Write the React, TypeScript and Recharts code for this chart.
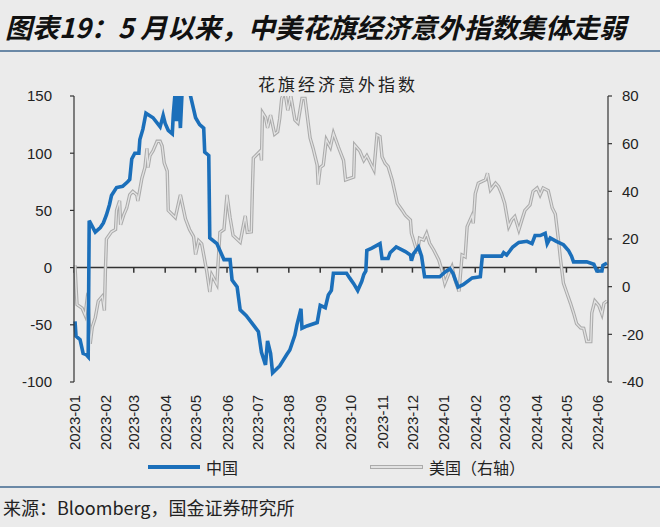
import React from 'react';
import { LineChart, Line, XAxis, YAxis, ReferenceLine } from 'recharts';

// 中国 Citi economic surprise index (left axis)
const chinaDates = [
  '2023-01-02', '2023-01-03', '2023-01-07', '2023-01-10', '2023-01-13', '2023-01-15', '2023-01-16', '2023-01-22',
  '2023-01-27', '2023-01-30', '2023-02-02', '2023-02-05', '2023-02-07', '2023-02-12', '2023-02-18', '2023-02-23',
  '2023-02-25', '2023-02-27', '2023-03-02', '2023-03-06', '2023-03-07', '2023-03-10', '2023-03-13', '2023-03-20',
  '2023-03-27', '2023-03-30', '2023-04-01', '2023-04-04', '2023-04-08', '2023-04-09', '2023-04-11', '2023-04-12',
  '2023-04-14', '2023-04-16', '2023-04-18', '2023-04-21', '2023-04-24', '2023-04-26', '2023-05-01', '2023-05-05',
  '2023-05-09', '2023-05-10', '2023-05-14', '2023-05-15', '2023-05-22', '2023-05-25', '2023-05-29', '2023-06-04',
  '2023-06-06', '2023-06-11', '2023-06-14', '2023-06-20', '2023-06-26', '2023-07-02', '2023-07-05', '2023-07-09',
  '2023-07-11', '2023-07-14', '2023-07-16', '2023-07-23', '2023-07-30', '2023-08-02', '2023-08-07', '2023-08-09',
  '2023-08-13', '2023-08-14', '2023-08-19', '2023-08-29', '2023-09-01', '2023-09-06', '2023-09-09', '2023-09-12',
  '2023-09-14', '2023-09-27', '2023-09-30', '2023-10-04', '2023-10-08', '2023-10-12', '2023-10-14', '2023-10-16',
  '2023-10-17', '2023-10-22', '2023-10-30', '2023-11-01', '2023-11-07', '2023-11-09', '2023-11-15', '2023-11-24',
  '2023-11-29', '2023-11-30', '2023-12-02', '2023-12-07', '2023-12-10', '2023-12-13', '2023-12-28', '2024-01-02',
  '2024-01-07', '2024-01-10', '2024-01-15', '2024-01-20', '2024-01-29', '2024-02-06', '2024-02-08', '2024-02-27',
  '2024-02-29', '2024-03-03', '2024-03-09', '2024-03-15', '2024-03-23', '2024-03-28', '2024-03-31', '2024-04-05',
  '2024-04-10', '2024-04-12', '2024-04-15', '2024-04-21', '2024-04-28', '2024-05-03', '2024-05-06', '2024-05-08',
  '2024-05-21', '2024-05-28', '2024-05-31', '2024-06-05', '2024-06-06', '2024-06-10',
];
const chinaValues = [
  -47, -60, -63, -75, -76, -78, 41, 31,
  35, 39, 46, 55, 63, 70, 71, 75,
  77, 95, 100, 100, 112, 121, 135, 131,
  123, 133, 126, 120, 117, 134, 155, 128,
  155, 122, 160, 170, 165, 150, 131, 125,
  122, 101, 98, 26, 21, 15, 7, 7,
  -11, -17, -37, -42, -49, -56, -74, -85,
  -64, -75, -92, -86, -76, -72, -59, -50,
  -36, -53, -51, -48, -33, -35, -24, -20,
  -5, -5, -9, -14, -20, -12, -6, -3,
  15, 17, 21, 8, 8, 13, 18, 14,
  11, 6, 12, 18, 10, -8, -8, -4,
  -1, -5, -17, -15, -9, -8, 10, 10,
  13, 11, 18, 22, 23, 21, 28, 28,
  30, 21, 26, 23, 20, 15, 10, 5,
  5, 3, -3, -3, 2, 4,
];

// 美国 Citi economic surprise index (right axis)
const usDates = [
  '2023-01-02', '2023-01-03', '2023-01-04', '2023-01-09', '2023-01-12', '2023-01-14', '2023-01-15', '2023-01-17',
  '2023-01-19', '2023-01-22', '2023-01-25', '2023-01-29', '2023-01-31', '2023-02-01', '2023-02-02', '2023-02-07',
  '2023-02-11', '2023-02-12', '2023-02-15', '2023-02-16', '2023-02-19', '2023-02-22', '2023-02-25', '2023-02-28',
  '2023-03-04', '2023-03-05', '2023-03-09', '2023-03-12', '2023-03-14', '2023-03-15', '2023-03-17', '2023-03-20',
  '2023-03-24', '2023-03-27', '2023-03-29', '2023-03-31', '2023-04-03', '2023-04-04', '2023-04-11', '2023-04-16',
  '2023-04-21', '2023-04-25', '2023-04-29', '2023-05-01', '2023-05-04', '2023-05-07', '2023-05-12', '2023-05-15',
  '2023-05-17', '2023-05-22', '2023-05-25', '2023-05-29', '2023-06-01', '2023-06-04', '2023-06-07', '2023-06-14',
  '2023-06-19', '2023-06-21', '2023-06-25', '2023-06-26', '2023-06-27', '2023-07-04', '2023-07-05', '2023-07-06',
  '2023-07-09', '2023-07-11', '2023-07-14', '2023-07-18', '2023-07-21', '2023-07-23', '2023-07-25', '2023-07-28',
  '2023-07-31', '2023-08-03', '2023-08-07', '2023-08-10', '2023-08-14', '2023-08-17', '2023-08-22', '2023-08-25',
  '2023-08-29', '2023-08-30', '2023-09-01', '2023-09-04', '2023-09-07', '2023-09-11', '2023-09-14', '2023-09-19',
  '2023-09-24', '2023-09-26', '2023-10-04', '2023-10-05', '2023-10-10', '2023-10-14', '2023-10-17', '2023-10-24',
  '2023-10-27', '2023-10-30', '2023-11-01', '2023-11-04', '2023-11-07', '2023-11-11', '2023-11-14', '2023-11-16',
  '2023-11-21', '2023-11-24', '2023-11-29', '2023-11-30', '2023-12-04', '2023-12-06', '2023-12-08', '2023-12-12',
  '2023-12-15', '2023-12-18', '2023-12-22', '2023-12-27', '2023-12-30', '2024-01-02', '2024-01-06', '2024-01-09',
  '2024-01-12', '2024-01-16', '2024-01-19', '2024-01-22', '2024-01-24', '2024-01-29', '2024-01-30', '2024-02-01',
  '2024-02-04', '2024-02-11', '2024-02-13', '2024-02-16', '2024-02-21', '2024-02-24', '2024-02-27', '2024-03-01',
  '2024-03-05', '2024-03-08', '2024-03-11', '2024-03-15', '2024-03-18', '2024-03-21', '2024-03-26', '2024-03-29',
  '2024-04-02', '2024-04-05', '2024-04-08', '2024-04-13', '2024-04-17', '2024-04-20', '2024-04-23', '2024-04-25',
  '2024-04-28', '2024-05-02', '2024-05-05', '2024-05-08', '2024-05-11', '2024-05-15', '2024-05-18', '2024-05-21',
  '2024-05-25', '2024-05-26', '2024-05-29', '2024-06-02', '2024-06-05', '2024-06-07', '2024-06-10',
];
const usValues = [
  9, 0, -7.5, -9, -12, -5, -6, -24,
  -17, -13, -6, -4, -10, 7, 20, 23,
  24, 32, 36, 26, 30, 33, 38.5, 40,
  38.5, 36, 45.5, 50, 58, 50, 55, 57,
  61, 61, 59, 52, 48.5, 32, 29, 38.5,
  28.5, 24, 21, 13.5, 19.3, 18, 6.5, -2.2,
  5, 1, 22.8, 24, 38.5, 29, 21.5, 18.7,
  29.7, 22.8, 23, 40, 54, 57, 53, 73,
  71, 66.6, 72, 64, 65, 70.5, 79, 82,
  74, 80, 70, 68.7, 79, 79, 62.4, 58,
  51, 42.8, 50, 51, 61.7, 58.5, 64.4, 58.5,
  53, 44.8, 46, 59.5, 57, 53, 55, 49,
  63.7, 63, 54.5, 51.8, 50.4, 44.8, 39, 35,
  32, 30, 28, 22.4, 16.8, 14, 20.3, 19.6,
  22.4, 18.2, 15.4, 11.2, 7, 1.4, 5.6, 8.4,
  2.8, -2, 13.3, 12.6, 25.2, 30, 26.6, 39,
  43.4, 44.8, 47.6, 40.6, 43.4, 42, 39, 35,
  25.2, 28, 29.4, 23.8, 28, 32, 34.3, 40,
  41.4, 38.5, 41.4, 40.3, 33, 30.5, 20, 12,
  1.5, -3.4, -7, -11, -15.5, -17.3, -17.5, -23,
  -23, -11, -6, -8, -11.5, -7, -6,
];

const monthTicks = [
  '2023-01', '2023-02', '2023-03', '2023-04', '2023-05', '2023-06', '2023-07', '2023-08', '2023-09',
  '2023-10', '2023-11', '2023-12', '2024-01', '2024-02', '2024-03', '2024-04', '2024-05', '2024-06',
];
const leftTicks = [-100, -50, 0, 50, 100, 150];
const rightTicks = [-40, -20, 0, 20, 40, 60, 80];

const toTime = (d: string) => Date.parse(d.length === 7 ? d + '-01' : d);

const chinaData = chinaDates.map((d, i) => ({ t: toTime(d), v: chinaValues[i] }));
const usData = usDates.map((d, i) => ({ t: toTime(d), v: usValues[i] }));
const tickTimes = monthTicks.map(toTime);

const BLUE = '#1b6fba';
const GRAY_OUT = '#ababab';
const GRAY_IN = '#e2e2e2';
const AXIS = '#333';
const NUM_FONT = '"Liberation Sans", Arial, sans-serif';
const CJK_FONT = '"Noto Sans CJK SC", "Noto Sans", sans-serif';

const MonthTick = (props: any) => {
  const { x, y, payload } = props;
  const label = new Date(payload.value).toISOString().slice(0, 7);
  return (
    <text
      x={x}
      y={y}
      transform={`rotate(-90 ${x} ${y})`}
      textAnchor="end"
      dominantBaseline="central"
      fill="#222"
      fontSize={15}
      fontFamily={NUM_FONT}
    >
      {label}
    </text>
  );
};

export default function App() {
  return (
    <div
      style={{
        position: 'absolute',
        top: 0,
        left: 0,
        width: 660,
        height: 527,
        background: '#ebebeb',
        overflow: 'hidden',
        fontFamily: CJK_FONT,
      }}
    >
      <div
        style={{
          position: 'absolute',
          left: 5,
          top: 11,
          fontSize: 27,
          lineHeight: '32px',
          fontWeight: 700,
          fontStyle: 'italic',
          color: '#111',
          whiteSpace: 'nowrap',
        }}
      >
        图表19：5 月以来，中美花旗经济意外指数集体走弱
      </div>
      <div style={{ position: 'absolute', left: 0, top: 50, width: 660, height: 2, background: '#6a88a6' }} />

      <div
        style={{
          position: 'absolute',
          left: 0,
          top: 71,
          width: 676,
          textAlign: 'center',
          fontSize: 17,
          letterSpacing: 3,
          color: '#222',
        }}
      >
        花旗经济意外指数
      </div>

      <LineChart
        width={660}
        height={462}
        margin={{ top: 96, right: 0, bottom: 0, left: 0 }}
        style={{ position: 'absolute', top: 0, left: 0 }}
      >
        <XAxis
          dataKey="t"
          type="number"
          domain={[toTime('2023-01-01'), toTime('2024-06-11')]}
          ticks={tickTimes}
          interval={0}
          axisLine={false}
          tickLine={false}
          tickSize={0}
          tickMargin={13}
          height={80}
          tick={<MonthTick />}
        />
        <YAxis
          yAxisId="left"
          orientation="left"
          width={74}
          domain={[-100, 150]}
          ticks={leftTicks}
          allowDataOverflow
          axisLine={{ stroke: AXIS, strokeWidth: 1.2 }}
          tickLine={{ stroke: AXIS, strokeWidth: 1.2 }}
          tickSize={4}
          tickMargin={18}
          tick={{ fill: '#222', fontSize: 15, fontFamily: NUM_FONT }}
        />
        <YAxis
          yAxisId="right"
          orientation="right"
          width={52}
          domain={[-40, 80]}
          ticks={rightTicks}
          allowDataOverflow
          axisLine={{ stroke: AXIS, strokeWidth: 1.2 }}
          tickLine={{ stroke: AXIS, strokeWidth: 1.2 }}
          tickSize={4}
          tickMargin={10}
          tick={{ fill: '#222', fontSize: 15, fontFamily: NUM_FONT }}
        />
        <ReferenceLine yAxisId="left" y={0} stroke={AXIS} strokeWidth={1.5} />
        {tickTimes.map((t) => (
          <ReferenceLine
            key={t}
            yAxisId="left"
            segment={[
              { x: t, y: 0 },
              { x: t, y: -4.4 },
            ]}
            stroke={AXIS}
            strokeWidth={1.5}
          />
        ))}
        <Line
          yAxisId="right"
          data={usData}
          dataKey="v"
          type="linear"
          stroke={GRAY_OUT}
          strokeWidth={3.4}
          dot={false}
          isAnimationActive={false}
        />
        <Line
          yAxisId="right"
          data={usData}
          dataKey="v"
          type="linear"
          stroke={GRAY_IN}
          strokeWidth={1.3}
          dot={false}
          isAnimationActive={false}
        />
        <Line
          yAxisId="left"
          data={chinaData}
          dataKey="v"
          type="linear"
          stroke={BLUE}
          strokeWidth={3.6}
          dot={false}
          isAnimationActive={false}
        />
      </LineChart>

      {/* legend */}
      <div style={{ position: 'absolute', left: 148, top: 465, width: 52, height: 4, background: BLUE }} />
      <div style={{ position: 'absolute', left: 206, top: 456, fontSize: 16, lineHeight: '22px', color: '#222' }}>中国</div>
      <div
        style={{
          position: 'absolute',
          left: 370,
          top: 465,
          width: 51,
          height: 1.6,
          background: GRAY_IN,
          border: `1px solid ${GRAY_OUT}`,
        }}
      />
      <div style={{ position: 'absolute', left: 429, top: 456, fontSize: 16, lineHeight: '22px', color: '#222' }}>
        美国（右轴）
      </div>

      <div style={{ position: 'absolute', left: 0, top: 486, width: 660, height: 2, background: '#6a88a6' }} />
      <div
        style={{
          position: 'absolute',
          left: 3,
          top: 496,
          fontSize: 18,
          lineHeight: '22px',
          color: '#222',
          whiteSpace: 'nowrap',
        }}
      >
        来源：Bloomberg，国金证券研究所
      </div>
    </div>
  );
}
